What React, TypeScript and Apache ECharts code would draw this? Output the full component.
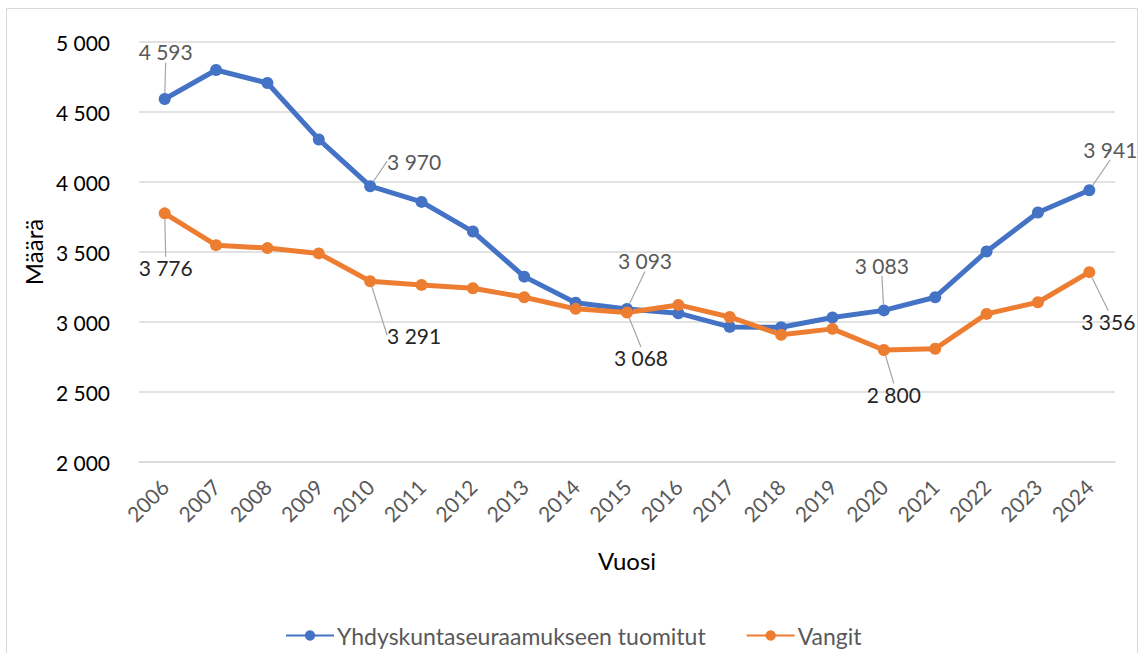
import React, { useEffect, useRef } from "react";
import * as echarts from "echarts";

const years = ["2006","2007","2008","2009","2010","2011","2012","2013","2014","2015","2016","2017","2018","2019","2020","2021","2022","2023","2024"];
const tuomitut = [4593, 4800, 4707, 4304, 3970, 3858, 3646, 3324, 3138, 3093, 3063, 2965, 2962, 3032, 3083, 3177, 3504, 3782, 3941];
const vangit = [3776, 3549, 3528, 3490, 3291, 3265, 3241, 3177, 3094, 3068, 3122, 3036, 2909, 2951, 2800, 2809, 3058, 3141, 3356];
const labelled = [0, 4, 9, 14, 18];
const blueOffsets: Record<number, [number, number]> = { 0: [1, -47], 4: [44, -25], 9: [18, -48], 14: [-2, -45], 18: [21, -41] };
const orangeOffsets: Record<number, [number, number]> = { 0: [1, 54], 4: [44, 54], 9: [14, 45], 14: [10, 44], 18: [19, 49] };

const fmt = (v: number) => {
  const s = String(Math.round(v));
  return s.length > 3 ? s.slice(0, s.length - 3) + " " + s.slice(s.length - 3) : s;
};

const FONT = "Lato, 'Open Sans', sans-serif";

export default function App() {
  const ref = useRef<HTMLDivElement>(null);
  useEffect(() => {
    const chart = echarts.init(ref.current!, undefined, { renderer: "svg" });
    const mk = (vals: number[], textColor: string) =>
      vals.map((v, i) =>
        labelled.includes(i)
          ? { value: v, label: { show: true, position: "inside", formatter: fmt(v), color: textColor, fontSize: 21, fontFamily: FONT } }
          : { value: v }
      );
    chart.setOption({
      animation: false,
      backgroundColor: "#fff",
      graphic: [
        { type: "rect", shape: { x: 6.5, y: 8.5, width: 1131, height: 660 }, style: { fill: "none", stroke: "#d9d9d9", lineWidth: 1 }, silent: true },
      ],
      grid: { left: 139, right: 26, top: 42, bottom: 191, containLabel: false },
      legend: {
        top: 619,
        left: 280,
        itemWidth: 48,
        itemHeight: 13,
        itemGap: 40,
        textStyle: { fontSize: 23, color: "#595959", fontFamily: FONT, padding: [0, 0, 0, -2] },
        data: ["Yhdyskuntaseuraamukseen tuomitut", "Vangit"],
      },
      xAxis: {
        type: "category",
        data: years,
        boundaryGap: true,
        name: "Vuosi",
        nameLocation: "middle",
        nameGap: 86,
        nameTextStyle: { fontSize: 24, color: "#000", fontFamily: FONT },
        axisLine: { show: true, lineStyle: { color: "#d9d9d9", width: 1.5 } },
        axisTick: { show: false },
        axisLabel: { rotate: 45, fontSize: 21, color: "#595959", fontFamily: FONT, margin: 21 },
      },
      yAxis: {
        type: "value",
        min: 2000,
        max: 5000,
        interval: 500,
        name: "Määrä",
        nameLocation: "middle",
        nameGap: 90,
        nameTextStyle: { fontSize: 24, color: "#000", fontFamily: FONT },
        axisLine: { show: false },
        axisTick: { show: false },
        axisLabel: { formatter: (v: number) => fmt(v), fontSize: 21, color: "#000", fontFamily: FONT, margin: 29 },
        splitLine: { lineStyle: { color: "#d9d9d9", width: 1.5 } },
      },
      series: [
        {
          name: "Yhdyskuntaseuraamukseen tuomitut",
          type: "line",
          data: mk(tuomitut, "#595959"),
          color: "#4472C4",
          lineStyle: { width: 5, color: "#4472C4" },
          symbol: "circle",
          symbolSize: 12,
          itemStyle: { color: "#4472C4" },
          label: { show: false },
          labelLine: { show: true, lineStyle: { color: "#a6a6a6", width: 1.2 } },
          labelLayout: (p: any) => {
            const o = blueOffsets[p.dataIndex];
            return o ? { dx: o[0], dy: o[1] } : {};
          },
        },
        {
          name: "Vangit",
          type: "line",
          data: mk(vangit, "#262626"),
          color: "#ED7D31",
          lineStyle: { width: 5, color: "#ED7D31" },
          symbol: "circle",
          symbolSize: 12,
          itemStyle: { color: "#ED7D31" },
          label: { show: false },
          labelLine: { show: true, lineStyle: { color: "#a6a6a6", width: 1.2 } },
          labelLayout: (p: any) => {
            const o = orangeOffsets[p.dataIndex];
            return o ? { dx: o[0], dy: o[1] } : {};
          },
        },
      ],
    });
    return () => chart.dispose();
  }, []);
  return <div ref={ref} style={{ position: "absolute", left: 0, top: 0, width: 1141, height: 653 }} />;
}
